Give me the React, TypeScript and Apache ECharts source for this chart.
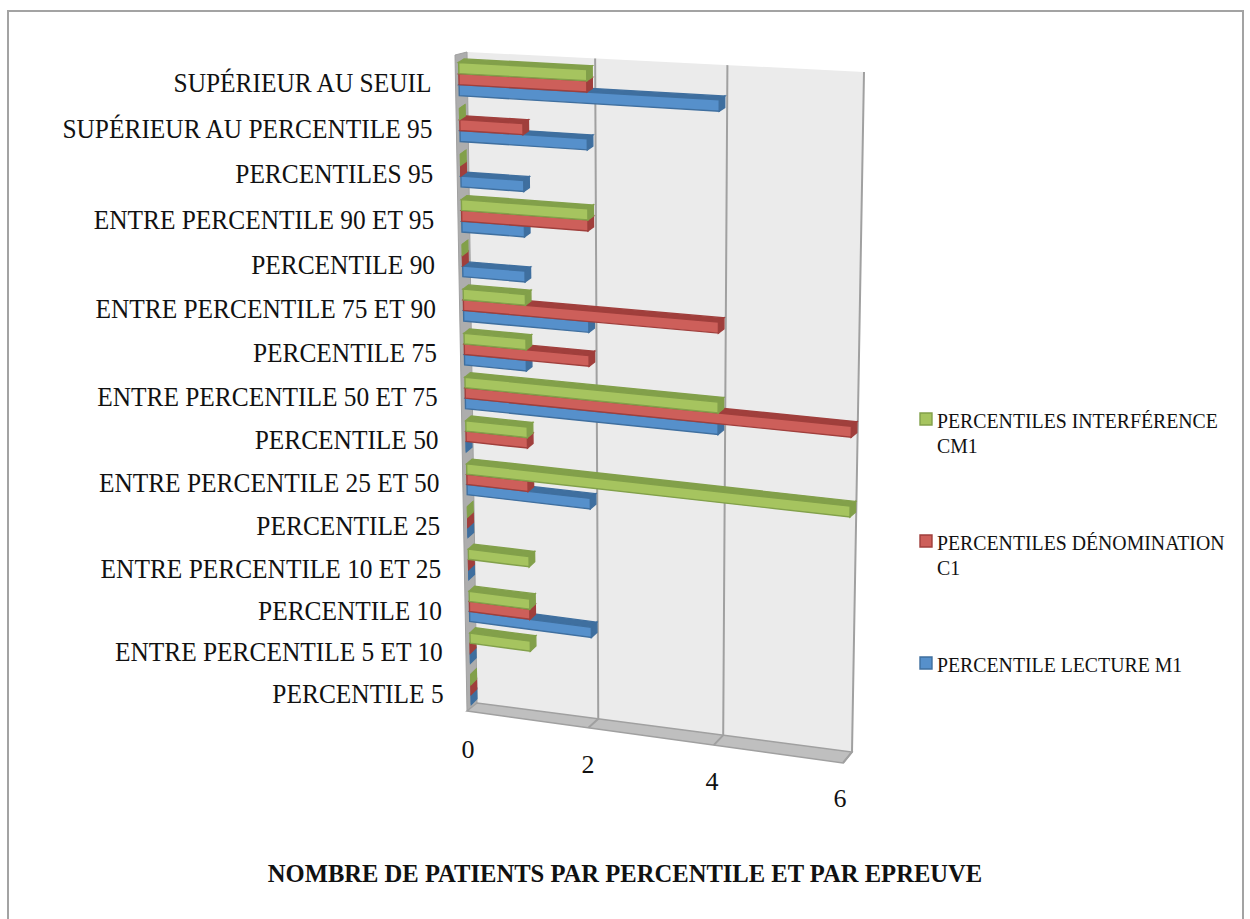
import React, { useEffect, useRef } from "react";
import * as echarts from "echarts";

const categories = [
  "SUPÉRIEUR AU SEUIL",
  "SUPÉRIEUR AU PERCENTILE 95",
  "PERCENTILES 95",
  "ENTRE PERCENTILE 90 ET 95",
  "PERCENTILE 90",
  "ENTRE PERCENTILE 75 ET 90",
  "PERCENTILE 75",
  "ENTRE PERCENTILE 50 ET 75",
  "PERCENTILE 50",
  "ENTRE PERCENTILE 25 ET 50",
  "PERCENTILE 25",
  "ENTRE PERCENTILE 10 ET 25",
  "PERCENTILE 10",
  "ENTRE PERCENTILE 5 ET 10",
  "PERCENTILE 5",
];
const lecture = [4, 2, 1, 1, 1, 2, 1, 4, 0, 2, 0, 0, 2, 0, 0];
const denomination = [2, 1, 0, 2, 0, 4, 2, 6, 1, 1, 0, 0, 1, 0, 0];
const interference = [2, 0, 0, 2, 0, 1, 1, 4, 1, 6, 0, 1, 1, 1, 0];
const ticks = [0, 2, 4, 6];
const seriesNames = ["PERCENTILE LECTURE M1", "PERCENTILES DÉNOMINATION C1", "PERCENTILES INTERFÉRENCE CM1"];
const titleText = "NOMBRE DE PATIENTS PAR PERCENTILE ET PAR EPREUVE";

const SERIF = "'Liberation Serif', serif";
const INK = "#111111";

type P = [number, number];
function quad(p0: P, p1: P, p2: P, p3: P) {
  const sx = p0[0] - p1[0] + p2[0] - p3[0];
  const sy = p0[1] - p1[1] + p2[1] - p3[1];
  const dx1 = p1[0] - p2[0], dx2 = p3[0] - p2[0], dy1 = p1[1] - p2[1], dy2 = p3[1] - p2[1];
  const den = dx1 * dy2 - dx2 * dy1;
  const g = (sx * dy2 - dx2 * sy) / den;
  const h = (dx1 * sy - sx * dy1) / den;
  const a = p1[0] - p0[0] + g * p1[0], b = p3[0] - p0[0] + h * p3[0];
  const d = p1[1] - p0[1] + g * p1[1], e = p3[1] - p0[1] + h * p3[1];
  return (u: number, v: number): P => {
    const w = g * u + h * v + 1;
    return [(a * u + b * v + p0[0]) / w, (d * u + e * v + p0[1]) / w];
  };
}
// Perspective planes: unit square -> top-left, top-right, bottom-right, bottom-left
const wallPlane = quad([467, 52], [864, 72], [852, 752], [477, 703]);
const frontPlane = quad([455, 55], [856, 77], [843, 763], [467, 711]);
const barPlane = quad([458.5, 56], [857, 77.5], [846, 764], [471.5, 710]);

const GRID = { left: 100, top: 100, width: 600, height: 600 };
const BAR_FRACTION = 0.24;

function unit(params: any, api: any, value: number, catIndex: number) {
  const cs = params.coordSys;
  const c = api.coord([value, catIndex]);
  return { u: (c[0] - cs.x) / cs.width, t: (c[1] - cs.y) / cs.height, band: api.size([0, 1])[1] / cs.height };
}

const barSeries = (name: string, values: number[], slot: number, front: string, dark: string) => ({
  type: "custom",
  name,
  coordinateSystem: "cartesian2d",
  encode: { x: 0, y: 1 },
  data: values.map((v, i) => [v, i]),
  renderItem: (params: any, api: any) => {
    const { u, t, band } = unit(params, api, api.value(0), api.value(1));
    const { u: u0 } = unit(params, api, 0, api.value(1));
    const h = band * BAR_FRACTION;
    const t0 = t + (slot - 0.5) * h;
    const t1 = t0 + h;
    const a = barPlane(u0, t0), b = barPlane(u, t0), c = barPlane(u, t1), d = barPlane(u0, t1);
    const ox = 5.5, oy = -(3.5 + 2 * t);
    const off = (p: P): P => [p[0] + ox, p[1] + oy];
    const face = (points: P[], fill: string) => ({
      type: "polygon",
      shape: { points },
      style: { fill, stroke: dark, lineWidth: 1.4 },
    });
    return {
      type: "group",
      children: [
        face([a, b, off(b), off(a)], dark),
        face([b, c, off(c), off(b)], dark),
        face([a, b, c, d], front),
      ],
    };
  },
});

export default function App() {
  const ref = useRef<HTMLDivElement>(null);
  useEffect(() => {
    document.body.style.margin = "0";
    const chart = echarts.init(ref.current!, undefined, { renderer: "svg" });

    const wallSeries = {
      type: "custom",
      name: "wall",
      coordinateSystem: "cartesian2d",
      encode: { x: 0, y: 1 },
      data: ticks.map((v) => [v, 0]),
      renderItem: (params: any, api: any) => {
        const v = api.value(0);
        const { u } = unit(params, api, v, 0);
        const top = wallPlane(u, 0), bot = wallPlane(u, 1), fr = frontPlane(u, 1);
        const children: any[] = [];
        if (params.dataIndex === 0) {
          children.push(
            { type: "polygon", shape: { points: [wallPlane(0, 0), wallPlane(1, 0), wallPlane(1, 1), wallPlane(0, 1)] }, style: { fill: "#ebebeb" } },
            { type: "polygon", shape: { points: [frontPlane(0, 0), wallPlane(0, 0), wallPlane(0, 1), frontPlane(0, 1)] }, style: { fill: "#adadad", stroke: "#a0a0a0", lineWidth: 1 } },
            { type: "polygon", shape: { points: [frontPlane(0, 1), wallPlane(0, 1), wallPlane(1, 1), frontPlane(1, 1)] }, style: { fill: "#bfbfbf", stroke: "#a0a0a0", lineWidth: 1.5 } },
          );
        }
        if (params.dataIndex > 0) {
          children.push({ type: "polyline", shape: { points: [top, bot, fr] }, style: { fill: "none", stroke: "#a0a0a0", lineWidth: 2 } });
        }
        children.push({
          type: "text",
          x: fr[0] + 1 - 4 * u,
          y: fr[1] + 38 - 3 * u,
          style: { text: String(v), fill: INK, fontFamily: SERIF, fontSize: 26, align: "center", verticalAlign: "middle" },
        });
        return { type: "group", children };
      },
    };

    const labelSeries = {
      type: "custom",
      name: "categories",
      coordinateSystem: "cartesian2d",
      encode: { x: 0, y: 1 },
      data: categories.map((_, i) => [0, i]),
      renderItem: (params: any, api: any) => {
        const { u, t } = unit(params, api, 0, api.value(1));
        const p = barPlane(u, t);
        return {
          type: "text",
          x: p[0] - 27.5,
          y: p[1] + 4 + 0.5 * t,
          scaleX: 0.94,
          style: { text: categories[api.value(1)], fill: INK, fontFamily: SERIF, fontSize: 27, align: "right", verticalAlign: "middle" },
        };
      },
    };

    const legendRows = [
      { lines: ["PERCENTILES INTERFÉRENCE", "CM1"], y: 413, fill: "#a6c45f", stroke: "#82a04a" },
      { lines: ["PERCENTILES DÉNOMINATION", "C1"], y: 535, fill: "#cd5f5a", stroke: "#a03f3c" },
      { lines: ["PERCENTILE LECTURE M1"], y: 657, fill: "#5690cb", stroke: "#3f6f9f" },
    ];
    const graphicEls: any[] = [
      { type: "rect", z: -10, shape: { x: 8, y: 11, width: 1235, height: 930 }, style: { fill: "#fff", stroke: "#a3a3a3", lineWidth: 2 } },
    ];
    legendRows.forEach((r) => {
      graphicEls.push({ type: "rect", shape: { x: 920, y: r.y, width: 12, height: 12 }, style: { fill: r.fill, stroke: r.stroke, lineWidth: 1.4 } });
      r.lines.forEach((line, i) => {
        graphicEls.push({
          type: "text",
          x: 937,
          y: r.y + 8 + i * 24.5,
          scaleX: 0.99,
          style: { text: line, fill: INK, fontFamily: SERIF, fontSize: 20, align: "left", verticalAlign: "middle" },
        });
      });
    });

    chart.setOption({
      animation: false,
      title: {
        text: titleText,
        left: 620,
        top: 856,
        textAlign: "center",
        textStyle: { fontFamily: SERIF, fontWeight: "bold", fontSize: 24.6, color: INK },
      },
      grid: { ...GRID, show: false },
      xAxis: { type: "value", min: 0, max: 6, interval: 2, show: false },
      yAxis: { type: "category", data: categories, inverse: true, show: false },
      graphic: graphicEls,
      series: [
        wallSeries,
        barSeries(seriesNames[0], lecture, 1, "#5690cb", "#3f6f9f"),
        barSeries(seriesNames[1], denomination, 0, "#cd5f5a", "#a03f3c"),
        barSeries(seriesNames[2], interference, -1, "#a6c45f", "#82a04a"),
        labelSeries,
      ],
    });
    return () => chart.dispose();
  }, []);
  return <div ref={ref} style={{ width: 1250, height: 919 }} />;
}
